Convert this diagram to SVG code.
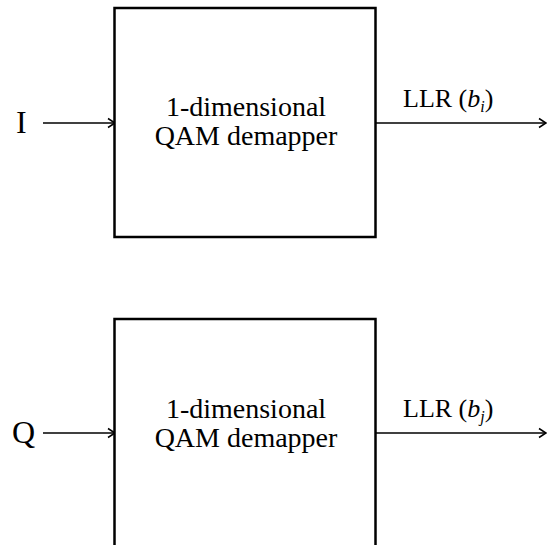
<svg xmlns="http://www.w3.org/2000/svg" width="547" height="545" viewBox="0 0 547 545">
<style>
.box{fill:#fff;stroke:#000;stroke-width:2.5}
.conn{fill:none;stroke:#000;stroke-width:1.5}
text{font-family:"Liberation Serif","Times New Roman",serif;fill:#000}
.lbl{font-size:28px;text-anchor:middle}
.io{font-size:32px}
.llr{font-size:26px}
</style>
<defs>
<marker id="arr" markerUnits="userSpaceOnUse" markerWidth="12" markerHeight="12" viewBox="0 0 12 12" refX="10" refY="6" orient="auto">
<path d="M3,1.5 L10,6 L3,10.5" fill="none" stroke="#000" stroke-width="1.5"/>
</marker>
</defs>
<rect width="547" height="545" fill="#fff"/>
<g id="connectors">
<line class="conn" x1="43" y1="123" x2="115" y2="123" marker-end="url(#arr)"/>
<line class="conn" x1="375" y1="123" x2="546" y2="123" marker-end="url(#arr)"/>
<line class="conn" x1="43" y1="433" x2="115" y2="433" marker-end="url(#arr)"/>
<line class="conn" x1="375" y1="433" x2="546" y2="433" marker-end="url(#arr)"/>
</g>
<g id="input-I"><text class="io" x="16" y="133" font-family="Liberation Serif, serif">I</text></g>
<g id="input-Q"><text class="io" x="12" y="443" font-family="Liberation Serif, serif">Q</text></g>
<g id="demapper-I">
<rect class="box" x="114.5" y="8" width="261" height="229"/>
<text class="lbl" x="246" y="116" font-family="Liberation Serif, serif">1-dimensional</text>
<text class="lbl" x="246" y="145" font-family="Liberation Serif, serif">QAM demapper</text>
</g>
<g id="demapper-Q">
<rect class="box" x="114.5" y="319" width="261" height="250"/>
<text class="lbl" x="246" y="418" font-family="Liberation Serif, serif">1-dimensional</text>
<text class="lbl" x="246" y="447" font-family="Liberation Serif, serif">QAM demapper</text>
</g>
<g id="output-I"><text class="llr" x="403" y="107" font-family="Liberation Serif, serif">LLR (<tspan font-style="italic">b</tspan><tspan font-style="italic" font-size="16" dy="5">i</tspan><tspan dy="-5">)</tspan></text></g>
<g id="output-Q"><text class="llr" x="403" y="417" font-family="Liberation Serif, serif">LLR (<tspan font-style="italic">b</tspan><tspan font-style="italic" font-size="16" dy="5">j</tspan><tspan dy="-5">)</tspan></text></g>
</svg>
